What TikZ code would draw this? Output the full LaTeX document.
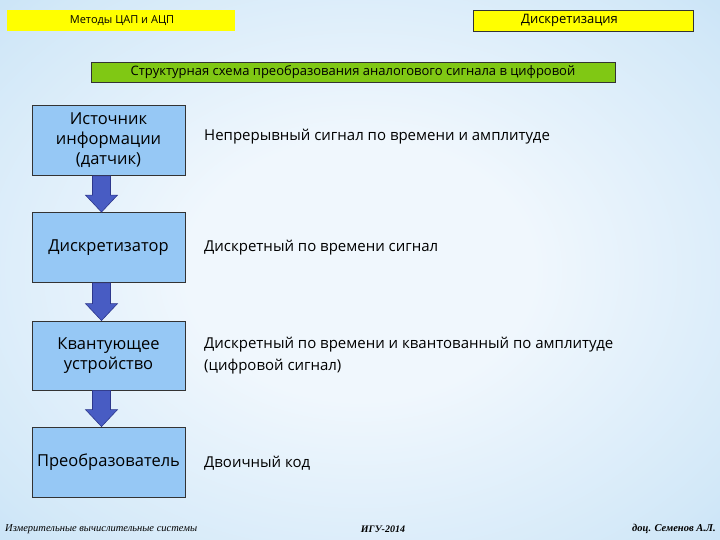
\documentclass[tikz,border=0pt]{standalone}
\usepackage{fontspec}
\setmainfont{Open Sans}
\newfontfamily\footfont{Liberation Serif}
\usetikzlibrary{calc}
\definecolor{bgout}{RGB}{135,190,236}
\definecolor{bgmid}{RGB}{165,208,242}
\definecolor{bgin}{RGB}{240,247,253}
\definecolor{bglt}{RGB}{210,232,248}
\pgfdeclareradialshading{bgshade}{\pgfpoint{0bp}{0bp}}{color(0bp)=(bgin); color(12bp)=(bgin); color(32bp)=(bglt); color(55bp)=(bgmid); color(72bp)=(bgout)}
\definecolor{yel}{RGB}{255,255,0}
\definecolor{grn}{RGB}{128,200,20}
\definecolor{boxfill}{RGB}{150,200,245}
\definecolor{arrfill}{RGB}{72,92,195}
\definecolor{arrline}{RGB}{45,55,140}
\tikzset{
  blk/.style={draw=black!80, line width=0.8pt, fill=boxfill, minimum width=153pt,
    minimum height=70pt, align=center, font=\fontsize{16.5}{20}\selectfont, inner sep=2pt},
  desc/.style={anchor=west, align=left, font=\fontsize{15}{22}\selectfont, inner sep=0pt},
  foot/.style={font=\footfont\itshape\fontsize{10.5}{12}\selectfont, inner sep=0pt}
}
\newcommand{\fatarr}[2]{%
  \path let \p1=([xshift=-7pt]#1.south), \p2=([xshift=-7pt]#2.north) in
    [draw=arrline, line width=0.6pt, fill=arrfill]
    (\x1-9pt,\y1) -- (\x1-9pt,\y2+17pt) -- (\x1-16pt,\y2+17pt) -- (\x1,\y2)
    -- (\x1+16pt,\y2+17pt) -- (\x1+9pt,\y2+17pt) -- (\x1+9pt,\y1) -- cycle;}
\begin{document}
\begin{tikzpicture}[x=1pt,y=-1pt]
\shade[shading=bgshade] (0,0) rectangle (720,540);
\useasboundingbox (0,0) rectangle (720,540);
% header boxes
\fill[yel] (7,10) rectangle (235,31);
\node[font=\fontsize{11}{13}\selectfont, inner sep=0pt] (h1) at (122,20.5) {Методы ЦАП и АЦП};
\node[draw=black!80, line width=0.8pt, fill=yel, minimum width=220pt, minimum height=21pt] (h2) at (583,20.5) {};
\node[font=\fontsize{13}{15}\selectfont, inner sep=0pt] (h2t) at (569.5,20.5) {Дискретизация};
\node[draw=black!80, line width=0.8pt, fill=grn, minimum width=524pt, minimum height=20pt,
  font=\fontsize{13}{15}\selectfont, inner sep=0pt] (title) at (353,72)
  {Структурная схема преобразования аналогового сигнала в цифровой};
% blocks
\node[blk] (b1) at (108.5,140.5) {Источник\\информации\\(датчик)};
\node[blk] (b2) at (108.5,247.5) {Дискретизатор};
\node[blk, minimum height=69pt] (b3) at (108.5,355.5) {Квантующее\\устройство};
\node[blk] (b4) at (108.5,462) {Преобразователь};
\fatarr{b1}{b2}
\fatarr{b2}{b3}
\fatarr{b3}{b4}
% descriptions
\node[desc] (d1) at (204,137) {Непрерывный сигнал по времени и амплитуде};
\node[desc] (d2) at (204,248) {Дискретный по времени сигнал};
\node[desc] (d3) at (204,356) {Дискретный по времени и квантованный по амплитуде\\(цифровой сигнал)};
\node[desc] (d4) at (204,463) {Двоичный код};
% footer
\node[foot, anchor=west] (f1) at (5,529) {Измерительные вычислительные системы};
\node[foot, font=\footfont\itshape\bfseries\fontsize{10}{11}\selectfont] (f2) at (383,529) {ИГУ-2014};
\node[foot, anchor=east, font=\footfont\itshape\bfseries\fontsize{10.5}{12}\selectfont] (f3) at (716,529) {доц. Семенов А.Л.};
\end{tikzpicture}
\end{document}
